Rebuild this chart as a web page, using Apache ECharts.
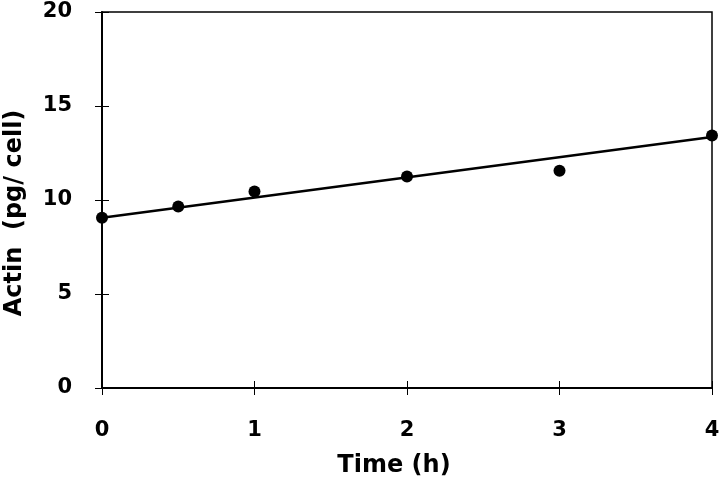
<!DOCTYPE html>
<html>
<head>
<meta charset="utf-8">
<script src="https://cdn.jsdelivr.net/npm/echarts@6/dist/echarts.min.js"></script>
<style>
  html, body { margin: 0; padding: 0; background: #fff; }
  #main { width: 720px; height: 488px; }
</style>
</head>
<body>
<div id="main"></div>
<script>
// measured points
var timeH = [0, 0.5, 1, 2, 3, 4];
var actin = [9.06, 9.65, 10.45, 11.25, 11.55, 13.43];
// fitted line ends
var fitX = [0, 4];
var fitY = [9.05, 13.35];
var xTicks = [0, 1, 2, 3, 4];
var yTicks = [0, 5, 10, 15, 20];

var pts = timeH.map(function (t, i) { return [t, actin[i]]; });
var fit = fitX.map(function (t, i) { return [t, fitY[i]]; });

var font = 'DejaVu Sans, sans-serif';
var chart = echarts.init(document.getElementById('main'));

var baseX = {
  type: 'value', min: 0, max: 4, interval: 1,
  splitLine: { show: false }
};
var baseY = {
  type: 'value', min: 0, max: 20, interval: 5,
  splitLine: { show: false }
};

chart.setOption({
  animation: false,
  grid: {
    left: 102, right: 8, top: 12, bottom: 100,
    containLabel: false, outerBoundsMode: 'none',
    show: true, borderColor: '#000', borderWidth: 1.5
  },
  xAxis: [
    Object.assign({}, baseX, {
      position: 'bottom',
      name: 'Time (h)', nameLocation: 'middle', nameGap: 66,
      nameTextStyle: { color: '#000', fontFamily: font, fontWeight: 'bold', fontSize: 24, padding: [0, 26, 0, 0] },
      axisLine: { show: true, lineStyle: { color: '#000', width: 2 } },
      axisTick: { show: true, inside: false, length: 7, lineStyle: { color: '#000', width: 1 } },
      axisLabel: {
        margin: 32, color: '#000', fontFamily: font, fontWeight: 'bold', fontSize: 21,
        formatter: function (v) { return xTicks.indexOf(v) >= 0 ? String(v) : ''; }
      }
    }),
    Object.assign({}, baseX, {
      position: 'bottom',
      axisLine: { show: false },
      axisTick: { show: true, inside: true, length: 7, lineStyle: { color: '#000', width: 1 } },
      axisLabel: { show: false }
    })
  ],
  yAxis: [
    Object.assign({}, baseY, {
      position: 'left',
      name: 'Actin  (pg/ cell)', nameLocation: 'middle', nameGap: 75,
      nameTextStyle: { color: '#000', fontFamily: font, fontWeight: 'bold', fontSize: 24, padding: [0, 26, 0, 0] },
      axisLine: { show: true, lineStyle: { color: '#000', width: 2 } },
      axisTick: { show: true, inside: false, length: 7, lineStyle: { color: '#000', width: 1 } },
      axisLabel: {
        margin: 30, color: '#000', fontFamily: font, fontWeight: 'bold', fontSize: 21,
        formatter: function (v) { return yTicks.indexOf(v) >= 0 ? String(v) : ''; }
      }
    }),
    Object.assign({}, baseY, {
      position: 'left',
      axisLine: { show: false },
      axisTick: { show: true, inside: true, length: 7, lineStyle: { color: '#000', width: 1 } },
      axisLabel: { show: false }
    })
  ],
  series: [
    {
      name: 'fit', type: 'line', data: fit,
      showSymbol: false, symbol: 'none',
      lineStyle: { color: '#000', width: 2.5 },
      silent: true
    },
    {
      name: 'Actin', type: 'scatter', data: pts,
      symbol: 'circle', symbolSize: 12,
      itemStyle: { color: '#000', opacity: 1 }
    }
  ]
});
</script>
</body>
</html>
